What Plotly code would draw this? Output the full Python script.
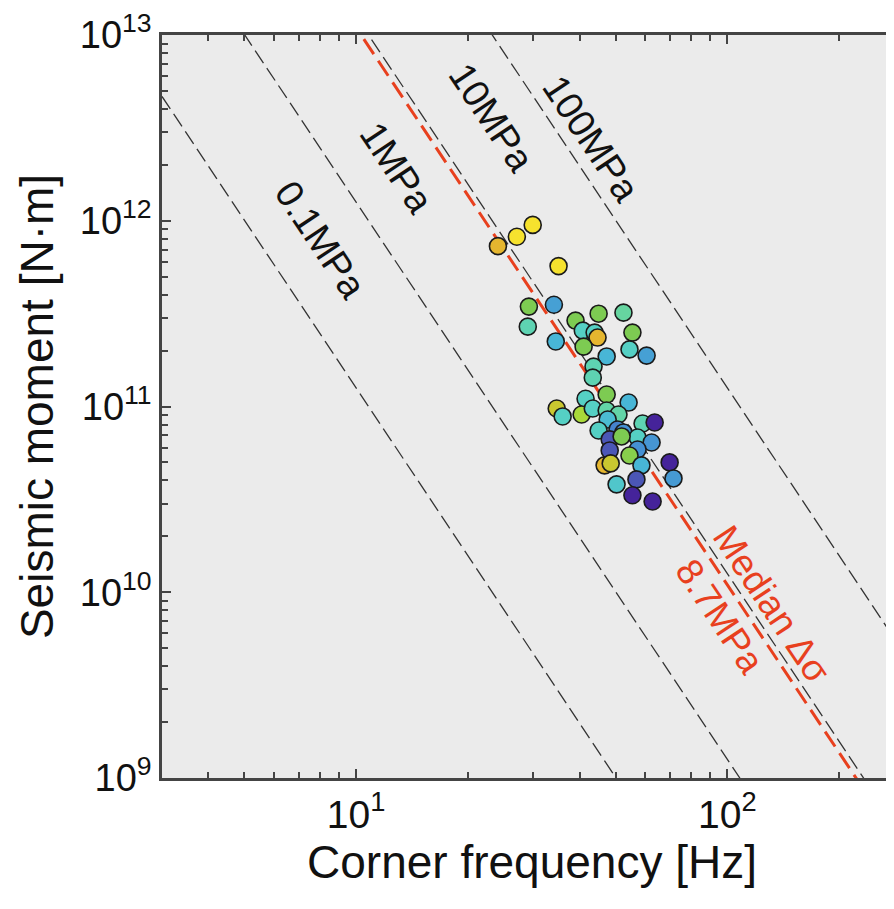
import numpy as np
import plotly.graph_objects as go

# ---------------- data ----------------
# corner frequency [Hz], seismic moment [N·m], colour value (0..1 on colour scale)
fc = [29.9, 27.1, 24.1, 35.1, 29.2, 34.1, 29.0, 39.0, 45.0, 52.5,
      40.8, 43.9, 44.7, 34.5, 41.0, 55.5, 54.5, 60.6, 47.3, 43.6,
      43.4, 47.3, 34.7, 41.5, 54.2, 36.0, 40.5, 43.4, 47.3, 50.9,
      47.6, 59.1, 63.7, 45.0, 50.6, 52.5, 57.3, 62.5, 48.2, 48.2,
      57.3, 54.5, 46.7, 48.5, 58.7, 69.9, 71.6, 56.9, 50.3, 55.5,
      62.9, 51.9]
m0 = [9.5e11, 8.2e11, 7.3e11, 5.7e11, 3.45e11, 3.53e11, 2.69e11, 2.90e11, 3.16e11, 3.20e11,
      2.56e11, 2.50e11, 2.35e11, 2.24e11, 2.10e11, 2.50e11, 2.03e11, 1.88e11, 1.86e11, 1.64e11,
      1.43e11, 1.16e11, 9.76e10, 1.10e11, 1.05e11, 8.84e10, 9.06e10, 9.76e10, 9.52e10, 9.06e10,
      8.51e10, 8.10e10, 8.20e10, 7.43e10, 7.52e10, 7.25e10, 6.81e10, 6.40e10, 6.65e10, 5.80e10,
      5.87e10, 5.45e10, 4.82e10, 4.94e10, 4.82e10, 5.0e10, 4.10e10, 4.05e10, 3.81e10, 3.33e10,
      3.08e10, 6.9e10]
cval = [1.0, 1.0, 0.92, 1.0, 0.7, 0.3, 0.55, 0.7, 0.7, 0.6,
        0.5, 0.5, 0.92, 0.37, 0.7, 0.7, 0.5, 0.3, 0.37, 0.55,
        0.55, 0.7, 0.86, 0.5, 0.37, 0.5, 0.78, 0.5, 0.58, 0.58,
        0.4, 0.55, 0.0, 0.5, 0.22, 0.25, 0.5, 0.27, 0.12, 0.12,
        0.25, 0.72, 0.92, 0.86, 0.37, 0.0, 0.28, 0.12, 0.45, 0.0,
        0.0, 0.7]

# stress-drop reference lines (Brune-type: M0 = A * dsigma / fc^3)
A_coef = 1.26e15                 # N·m·Hz^3 per MPa
stress_levels = [0.1, 1, 10, 100]  # MPa
stress_labels = ["0.1MPa", "1MPa", "10MPa", "100MPa"]
median_stress = 8.7              # MPa
fc_span = [3, 300]               # Hz, line end points

# axis ticks
x_tickvals = [10, 100]
x_ticktext = ["10<sup>1</sup>", "10<sup>2</sup>"]
y_tickvals = [1e9, 1e10, 1e11, 1e12, 1e13]
y_ticktext = ["10<sup>9</sup>", "10<sup>10</sup>", "10<sup>11</sup>", "10<sup>12</sup>", "10<sup>13</sup>"]

# label positions (log10 fc, log10 M0)
label_lfc = [0.905, 1.110, 1.366, 1.634]
label_lm0 = [11.898, 12.285, 12.554, 12.44]
median_label_lfc = [2.120, 1.980]
median_label_lm0 = [9.935, 9.870]
median_label_text = ["Median Δσ", "8.7MPa"]

parula_like = [[0.0, '#45239a'], [0.12, '#4b56b6'], [0.25, '#4590d2'], [0.37, '#48b6d6'],
               [0.5, '#55d0c4'], [0.6, '#66d5a0'], [0.7, '#7dcb52'], [0.78, '#a9d93a'],
               [0.86, '#c9c730'], [0.92, '#e5b62f'], [1.0, '#f6e22e']]

FONT = "Liberation Sans, Arial, sans-serif"
RED = "#e8401e"

fig = go.Figure()

for s in stress_levels:
    fig.add_trace(go.Scatter(
        x=fc_span, y=[A_coef * s / f ** 3 for f in fc_span], mode="lines",
        line=dict(color="#333333", width=1.3, dash="15px,6px"),
        showlegend=False, hoverinfo="skip"))

fig.add_trace(go.Scatter(
    x=fc_span, y=[A_coef * median_stress / f ** 3 for f in fc_span], mode="lines",
    line=dict(color=RED, width=3, dash="18px,8px"),
    showlegend=False, hoverinfo="skip"))

fig.add_trace(go.Scatter(
    x=fc, y=m0, mode="markers",
    marker=dict(size=17, color=cval, colorscale=parula_like, cmin=0, cmax=1,
                line=dict(color="#1a1a1a", width=1.6)),
    showlegend=False))

ang = 56.3
for t, lx, ly in zip(stress_labels, label_lfc, label_lm0):
    fig.add_annotation(x=lx, y=ly, xref="x", yref="y", text=t, showarrow=False,
                       textangle=ang, font=dict(family=FONT, size=38, color="#111111"))
for t, lx, ly in zip(median_label_text, median_label_lfc, median_label_lm0):
    fig.add_annotation(x=lx, y=ly, xref="x", yref="y", text=t, showarrow=False,
                       textangle=ang, font=dict(family=FONT, size=37, color=RED))

# page body has an 8px margin: offsets compensate so the plot area sits at 162..894 x 35..778
fig.update_layout(
    width=894, height=909,
    margin=dict(l=154, r=0, t=27, b=139, autoexpand=False),
    paper_bgcolor="white", plot_bgcolor="#ebebeb",
    font=dict(family=FONT, color="#111111"),
    showlegend=False,
)
fig.update_xaxes(
    type="log", range=[np.log10(3), 2.4704], automargin=False,
    tickvals=x_tickvals, ticktext=x_ticktext, ticklabeloverflow="allow",
    showgrid=False, zeroline=False,
    showline=True, linecolor="#444444", linewidth=2.5, mirror="ticks",
    ticks="inside", ticklen=9, tickwidth=2, tickcolor="#444444",
    minor=dict(ticks="inside", ticklen=6, tickwidth=1.5, tickcolor="#444444", dtick="D1", showgrid=False),
    tickfont=dict(family=FONT, size=39, color="#111111"),
    title=dict(text="Corner frequency [Hz]", font=dict(family=FONT, size=46, color="#111111"), standoff=2),
)
fig.update_yaxes(
    type="log", range=[9, 13], automargin=False,
    tickvals=y_tickvals, ticktext=y_ticktext, ticklabeloverflow="allow",
    showgrid=False, zeroline=False,
    showline=True, linecolor="#444444", linewidth=2.5, mirror=False,
    ticks="inside", ticklen=9, tickwidth=2, tickcolor="#444444",
    minor=dict(ticks="inside", ticklen=6, tickwidth=1.5, tickcolor="#444444", dtick="D1", showgrid=False),
    tickfont=dict(family=FONT, size=38, color="#111111"),
    title=dict(text="Seismic moment [N·m]", font=dict(family=FONT, size=46, color="#111111"), standoff=12),
)

fig.write_html("out.html")
